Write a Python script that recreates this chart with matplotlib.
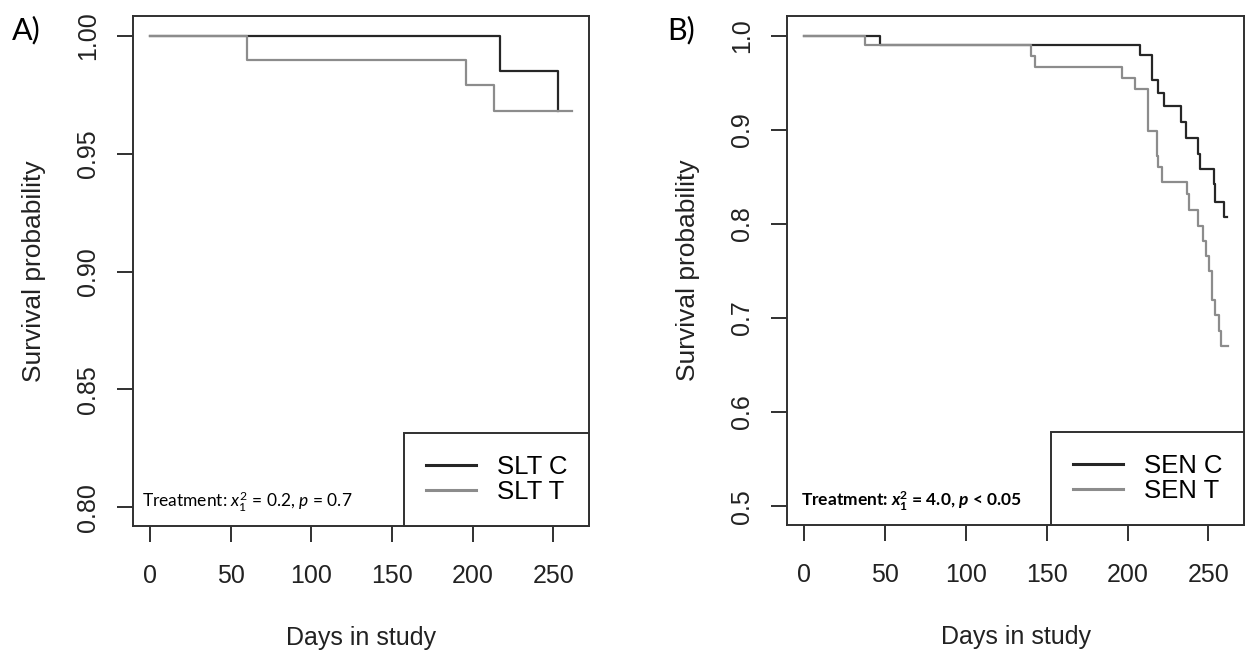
import numpy as np
import matplotlib
matplotlib.use('Agg')
import matplotlib.pyplot as plt

plt.rcParams['font.family'] = ['Liberation Sans', 'DejaVu Sans']
plt.rcParams['mathtext.fontset'] = 'custom'
plt.rcParams['mathtext.rm'] = 'Lato'
plt.rcParams['mathtext.it'] = 'Lato:italic'
plt.rcParams['mathtext.bf'] = 'Lato:bold'
plt.rcParams['mathtext.bfit'] = 'Lato:italic:bold'

# Panel A : SLT
slt_c_days = [0, 217, 253]
slt_c_surv = [1.0, 0.985, 0.968]
slt_t_days = [0, 60, 196, 213, 261.5]
slt_t_surv = [1.0, 0.990, 0.979, 0.968, 0.968]

# Panel B : SEN
sen_c_days = [0, 47, 207.8, 215.4, 219.1, 222.8, 233.1, 236.2, 243.8, 244.5,
              253.5, 254.2, 259.7, 261.7]
sen_c_surv = [1.0, 0.990, 0.980, 0.953, 0.939, 0.925, 0.908, 0.891, 0.874, 0.858,
              0.842, 0.823, 0.807, 0.807]
sen_t_days = [0, 37.5, 140.5, 143, 196.5, 204.8, 212.6, 218.1, 218.8, 221.2,
              236.6, 238, 243.4, 246.9, 248.4, 250.4, 252.3, 254, 256.6, 257.7, 262]
sen_t_surv = [1.0, 0.990, 0.978, 0.967, 0.955, 0.943, 0.899, 0.872, 0.860, 0.845,
              0.832, 0.815, 0.798, 0.782, 0.766, 0.750, 0.719, 0.703, 0.686, 0.670, 0.670]

x_ticks = [0, 50, 100, 150, 200, 250]
yticks_a = [0.80, 0.85, 0.90, 0.95, 1.00]
yticks_b = [0.5, 0.6, 0.7, 0.8, 0.9, 1.0]

W, H = 1245, 661
fig = plt.figure(figsize=(W / 100, H / 100), dpi=100)

c_noir = '#262626'
c_gris = '#8c8c8c'
c_axe = '#303030'


def panneau(rect, days_c, surv_c, days_t, surv_t, lab_c, lab_t, yticks, yfmt, ylim, texte, poids):
    l, t, r, b = rect
    ax = fig.add_axes([l / W, 1 - b / H, (r - l) / W, (b - t) / H])
    ax.step(days_c, surv_c, where='post', color=c_noir, lw=1.6, label=lab_c)
    ax.step(days_t, surv_t, where='post', color=c_gris, lw=1.6, label=lab_t)
    ax.set_xlim(-10.5, 272)
    ax.set_ylim(*ylim)
    ax.set_xticks(x_ticks)
    ax.set_yticks(yticks)
    ax.set_yticklabels([yfmt % v for v in yticks])
    for s in ax.spines.values():
        s.set_linewidth(1.4)
        s.set_color(c_axe)
    ax.tick_params(axis='both', direction='out', length=11.5, width=1.4,
                   color=c_axe, labelsize=18, labelcolor='#222222')
    ax.tick_params(axis='x', pad=16)
    ax.tick_params(axis='y', pad=12, labelrotation=90)
    for lab in ax.get_yticklabels():
        lab.set_va('center')
    ax.set_xlabel('Days in study', fontsize=18, color='#222222', labelpad=27)
    ax.set_ylabel('Survival probability', fontsize=19, color='#222222', labelpad=22)
    leg = ax.legend(loc='lower right', borderaxespad=0, fancybox=False,
                    framealpha=1, edgecolor=c_axe, fontsize=18.5,
                    handlelength=1.95, handletextpad=0.8, borderpad=0.85,
                    labelspacing=0.05)
    leg.get_frame().set_linewidth(1.4)
    for ln in leg.get_lines():
        ln.set_linewidth(2.2)
    ax.text(texte[0], texte[1], texte[2], transform=ax.transAxes, fontsize=12.5,
            family='Lato', fontweight=poids, va='center', ha='left', color='black')
    return ax


ax_a = panneau((133, 16, 589, 526), slt_c_days, slt_c_surv, slt_t_days, slt_t_surv,
               'SLT C', 'SLT T', yticks_a, '%.2f', (0.792, 1.0085),
               (0.02, 0.048, r'Treatment: $x^2_1$ = 0.2, $p$ = 0.7'), 'normal')
ax_b = panneau((787, 16, 1244, 525), sen_c_days, sen_c_surv, sen_t_days, sen_t_surv,
               'SEN C', 'SEN T', yticks_b, '%.1f', (0.48, 1.021),
               (0.03, 0.046, r'Treatment: $\mathbfit{x}^{\mathbf{2}}_{\mathbf{1}}$ = 4.0, $\mathbfit{p}$ < 0.05'), 'bold')

fig.text(12 / W, 1 - 30 / H, 'A)', fontsize=22, family='Lato', va='center', ha='left')
fig.text(667 / W, 1 - 30 / H, 'B)', fontsize=22, family='Lato', va='center', ha='left')

fig.savefig('out.png', dpi=100)
